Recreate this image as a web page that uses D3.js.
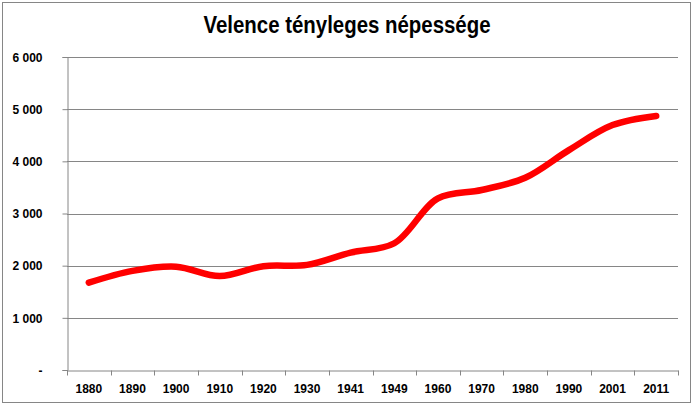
<!DOCTYPE html>
<html>
<head>
<meta charset="utf-8">
<script src="https://cdn.jsdelivr.net/npm/d3@7"></script>
<style>
  body { margin: 0; background: #fff; }
  text { font-family: "Liberation Sans", Arial, sans-serif; }
</style>
</head>
<body>
<div id="chart"></div>
<script>
// data
var years = ["1880", "1890", "1900", "1910", "1920", "1930", "1941", "1949", "1960", "1970", "1980", "1990", "2001", "2011"];
var population = [1675, 1900, 1980, 1800, 1990, 2015, 2250, 2430, 3290, 3450, 3685, 4215, 4695, 4870];
var yTicks = [0, 1000, 2000, 3000, 4000, 5000, 6000];
var yTickLabels = ["-", "1 000", "2 000", "3 000", "4 000", "5 000", "6 000"];
var title = "Velence tényleges népessége";

var W = 695, H = 406;
var margin = {top: 57, right: 17, bottom: 36, left: 67},
  width = W - margin.left - margin.right,
  height = H - margin.top - margin.bottom;

var svg = d3.select("#chart")
  .append("svg")
    .attr("width", W)
    .attr("height", H);

// outer frame
svg.append("rect")
  .attr("x", 2.5).attr("y", 2.5)
  .attr("width", 688).attr("height", 400)
  .attr("fill", "#fff")
  .attr("stroke", "#868686")
  .attr("stroke-width", 1);

svg.append("text")
  .attr("x", 347)
  .attr("y", 33)
  .attr("text-anchor", "middle")
  .attr("font-size", "23px")
  .attr("font-weight", "bold")
  .attr("fill", "#000")
  .attr("textLength", 287)
  .attr("lengthAdjust", "spacingAndGlyphs")
  .text(title);

var g = svg.append("g")
  .attr("transform", "translate(" + margin.left + "," + margin.top + ")");

var x = d3.scaleBand()
  .domain(years)
  .range([0, width]);

var y = d3.scaleLinear()
  .domain([0, 6000])
  .range([height, 0]);

// gridlines
g.selectAll(".grid")
  .data(yTicks.filter(d => d > 0))
  .enter()
  .append("line")
    .attr("x1", 0).attr("x2", width)
    .attr("y1", d => Math.round(y(d)) + 0.5)
    .attr("y2", d => Math.round(y(d)) + 0.5)
    .attr("stroke", "#868686");

// y axis
var yAxis = g.append("g")
  .attr("transform", "translate(0.5,0)")
  .call(d3.axisLeft(y)
    .tickValues(yTicks)
    .tickSize(5)
    .tickPadding(20)
    .tickFormat((d, i) => yTickLabels[i]));

// x axis, ticks at category borders
var xAxis = g.append("g")
  .attr("transform", "translate(0," + (Math.round(height) + 0.5) + ")")
  .call(d3.axisBottom(x).tickSize(0).tickPadding(14));

xAxis.selectAll(".bound")
  .data(d3.range(years.length + 1))
  .enter()
  .append("line")
    .attr("class", "bound")
    .attr("x1", i => Math.round(i * x.step()) + 0.5)
    .attr("x2", i => Math.round(i * x.step()) + 0.5)
    .attr("y1", 0).attr("y2", 5)
    .attr("stroke", "#868686");

[yAxis, xAxis].forEach(function(a) {
  a.select(".domain").attr("stroke", "#868686");
  a.selectAll(".tick line").attr("stroke", "#868686");
  a.selectAll("text")
    .attr("font-family", "'Liberation Sans', Arial, sans-serif")
    .attr("font-size", "12px")
    .attr("font-weight", "bold")
    .attr("fill", "#000");
});
yAxis.selectAll("text").attr("dy", "0.35em");

// smoothed population line
var line = d3.line()
  .x((d, i) => x(years[i]) + x.bandwidth() / 2)
  .y(d => y(d))
  .curve(d3.curveCatmullRom.alpha(0.5));

g.append("path")
  .datum(population)
  .attr("d", line)
  .attr("fill", "none")
  .attr("stroke", "#ff0000")
  .attr("stroke-width", 6.5)
  .attr("stroke-linecap", "round")
  .attr("stroke-linejoin", "round");
</script>
</body>
</html>
